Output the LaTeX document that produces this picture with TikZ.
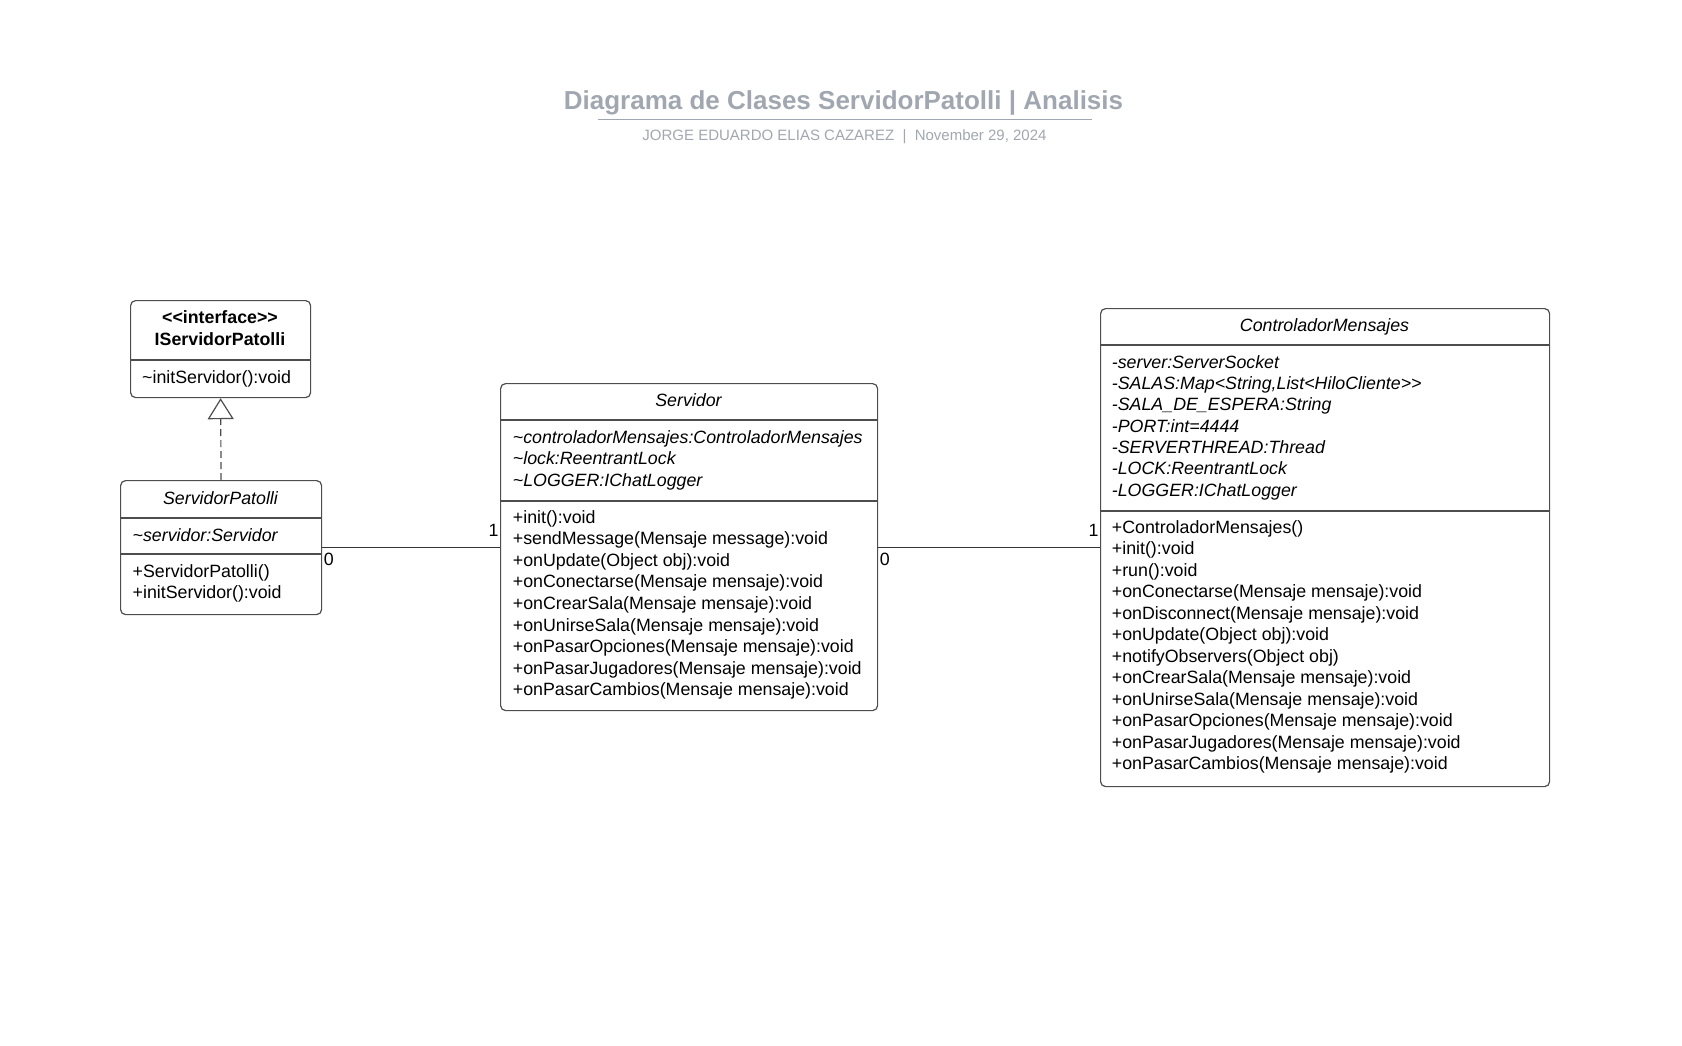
\documentclass[tikz,border=0pt]{standalone}
\usepackage{fontspec}
\setmainfont{Liberation Sans}
\usetikzlibrary{arrows.meta}
\usetikzlibrary{positioning}

\definecolor{linegray}{HTML}{4D4D4D}
\definecolor{titlegray}{HTML}{A1A7B0}
\newcommand{\bodyfont}{\fontsize{17.8}{21.5}\selectfont}
\newcommand{\tl}{\textasciitilde}

\tikzset{
  classbox/.style={draw=linegray, line width=1.2pt, rounded corners=5pt,
    anchor=north west, inner sep=0pt},
  divider/.style={draw=linegray, line width=1.2pt},
  assoc/.style={draw=black!80, line width=1.1pt},
  member/.style={anchor=base west, inner sep=0pt, font=\bodyfont},
  attr/.style={member, font=\bodyfont\itshape},
  classname/.style={anchor=base, inner sep=0pt, font=\bodyfont\itshape},
  multlo/.style={inner sep=1pt, font=\bodyfont, anchor=base west, yshift=-18.5pt},
  multhi/.style={inner sep=1pt, font=\bodyfont, anchor=base east, yshift=11pt},
}

\begin{document}
\begin{tikzpicture}[x=1pt, y=-1pt]
    \useasboundingbox (0,0) rectangle (1682,1046);

    % title block
    \node[anchor=base, inner sep=0pt, text=titlegray, font=\fontsize{26}{30}\selectfont\bfseries]
      (title) at (843.5,110) {Diagrama de Clases ServidorPatolli | Analisis};
    \draw[titlegray, line width=1.8pt] (598,119.5) coordinate (ulA) -- (1092,119.5) coordinate (ulB);
    \node[anchor=base, inner sep=0pt, text=titlegray, font=\fontsize{15}{18}\selectfont]
      (subtitle) at (844.5,140.5) {JORGE EDUARDO ELIAS CAZAREZ \ | \ November 29, 2024};

    % IServidorPatolli
    \node[classbox, minimum width=180pt, minimum height=97pt] (iface) at (130,300) {};
    \draw[divider] (iface.west |- 0,360) -- (iface.east |- 0,360);
    \node[anchor=base, inner sep=0pt, font=\bodyfont\bfseries] (ifaceSt) at (220,323) {<{}<interface>{}>};
    \node[anchor=base, inner sep=0pt, font=\bodyfont\bfseries] (ifaceNm) at (220,345) {IServidorPatolli};
    \node[member] (ifaceM0) at (142,383) {\tl initServidor():void};

    % ServidorPatolli
    \node[classbox, minimum width=201pt, minimum height=134pt] (spat) at (120,480) {};
    \draw[divider] (spat.west |- 0,518) -- (spat.east |- 0,518);
    \draw[divider] (spat.west |- 0,554) -- (spat.east |- 0,554);
    \node[classname] (spatNm) at (220.5,504) {ServidorPatolli};
    \node[attr] (spatA0) at (132.5,541) {\tl servidor:Servidor};
    \foreach \txt [count=\i from 0] in {+ServidorPatolli(), +initServidor():void}
      \node[member] (spatM\i) at (132.5,577+21.5*\i) {\txt};

    % Servidor
    \node[classbox, minimum width=377pt, minimum height=327pt] (srv) at (500,383) {};
    \draw[divider] (srv.west |- 0,420) -- (srv.east |- 0,420);
    \draw[divider] (srv.west |- 0,501) -- (srv.east |- 0,501);
    \node[classname] (srvNm) at (688.5,406) {Servidor};
    \foreach \txt [count=\i from 0] in {\tl controladorMensajes:ControladorMensajes,
        \tl lock:ReentrantLock, \tl LOGGER:IChatLogger}
      \node[attr] (srvA\i) at (512.7,443+21.5*\i) {\txt};
    \foreach \txt [count=\i from 0] in {+init():void, +sendMessage(Mensaje message):void,
        +onUpdate(Object obj):void, +onConectarse(Mensaje mensaje):void,
        +onCrearSala(Mensaje mensaje):void, +onUnirseSala(Mensaje mensaje):void,
        +onPasarOpciones(Mensaje mensaje):void, +onPasarJugadores(Mensaje mensaje):void,
        +onPasarCambios(Mensaje mensaje):void}
      \node[member] (srvM\i) at (512.7,523+21.6*\i) {\txt};

    % ControladorMensajes
    \node[classbox, minimum width=449pt, minimum height=478pt] (ctl) at (1100,308) {};
    \draw[divider] (ctl.west |- 0,345) -- (ctl.east |- 0,345);
    \draw[divider] (ctl.west |- 0,511) -- (ctl.east |- 0,511);
    \node[classname] (ctlNm) at (1324.5,331) {ControladorMensajes};
    \foreach \txt [count=\i from 0] in {-server:ServerSocket,
        {-SALAS:Map<String,List<HiloCliente>{}>}, -SALA\_DE\_ESPERA:String,
        -PORT:int=4444, -SERVERTHREAD:Thread, -LOCK:ReentrantLock, -LOGGER:IChatLogger}
      \node[attr] (ctlA\i) at (1111.7,368+21.35*\i) {\txt};
    \foreach \txt [count=\i from 0] in {+ControladorMensajes(), +init():void, +run():void,
        +onConectarse(Mensaje mensaje):void, +onDisconnect(Mensaje mensaje):void,
        +onUpdate(Object obj):void, +notifyObservers(Object obj),
        +onCrearSala(Mensaje mensaje):void, +onUnirseSala(Mensaje mensaje):void,
        +onPasarOpciones(Mensaje mensaje):void, +onPasarJugadores(Mensaje mensaje):void,
        +onPasarCambios(Mensaje mensaje):void}
      \node[member] (ctlM\i) at (1111.7,533+21.5*\i) {\txt};

    % relations
    \draw[linegray, line width=1.2pt, dash pattern=on 7pt off 4pt,
      -{Triangle[open, width=26pt, length=21pt, line width=1.2pt]}] (spat.north) -- (iface.south);
    \draw[assoc] (spat.east |- srv.west) -- (srv.west)
      node[multlo, pos=0] (mSpat) {0}
      node[multhi, pos=1] (mSrvL) {1};
    \draw[assoc] (srv.east) -- (srv.east -| ctl.west)
      node[multlo, pos=0] (mSrvR) {0}
      node[multhi, pos=1] (mCtl) {1};
\end{tikzpicture}
\end{document}
